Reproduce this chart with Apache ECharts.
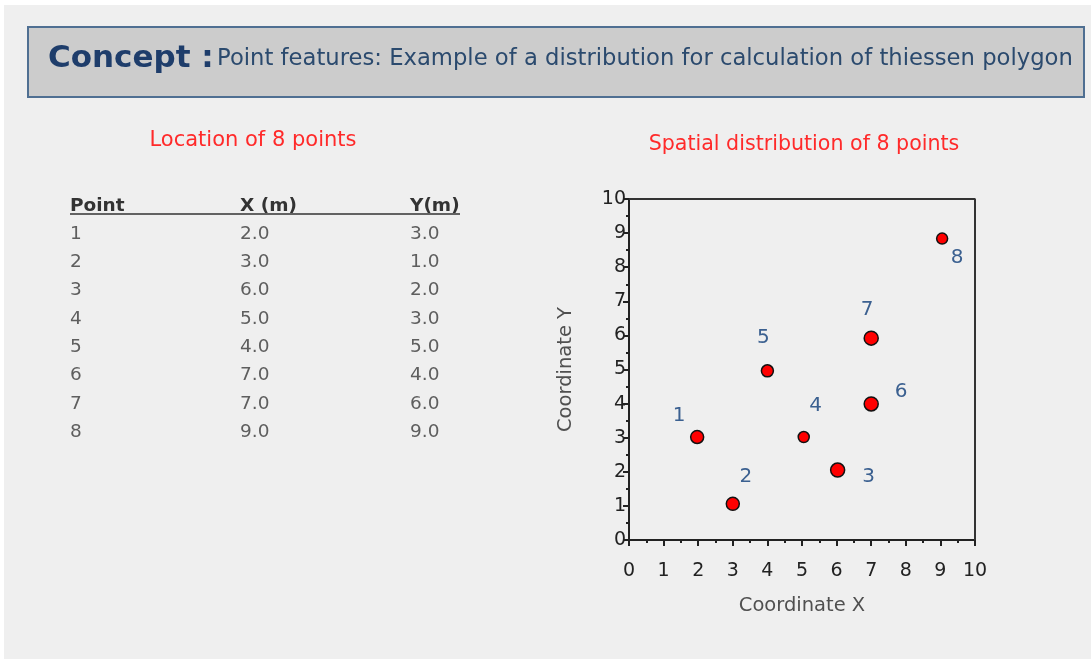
<!DOCTYPE html>
<html lang="en">
<head>
<meta charset="UTF-8">
<title>Thiessen polygon points</title>
<script src="https://cdn.jsdelivr.net/npm/echarts@6/dist/echarts.min.js"></script>
<style>
  html, body { margin: 0; padding: 0; background: #ffffff; }
  #box { width: 1091px; height: 661px; }
</style>
</head>
<body>
<div id="box"></div>
<script>
// table values (location of 8 points)
var pointIds = ['1', '2', '3', '4', '5', '6', '7', '8'];
var pointX = ['2.0', '3.0', '6.0', '5.0', '4.0', '7.0', '7.0', '9.0'];
var pointY = ['3.0', '1.0', '2.0', '3.0', '5.0', '4.0', '6.0', '9.0'];

// positions as plotted in the scatter
var plotX = [1.97, 3.0, 6.03, 5.05, 4.0, 7.0, 7.0, 9.05];
var plotY = [3.02, 1.06, 2.05, 3.02, 4.96, 3.99, 5.92, 8.84];
var markSize = [13, 13, 14, 11, 12, 14, 14, 11];

// label offsets next to each marker
var labelOffset = [[-18, -21], [13, -27], [31, 7], [12, -31], [-4, -33], [30, -12], [-4, -28], [15, 19]];

var axisTicks = ['0', '1', '2', '3', '4', '5', '6', '7', '8', '9', '10'];

var myChart = echarts.init(document.getElementById('box'));

var font = '"DejaVu Sans", Verdana, sans-serif';
var tableColor = '#5e5e5e';

// build table as graphic texts
var graphics = [];
// panel background
graphics.push({ type: 'rect', z: -10, shape: { x: 4, y: 5, width: 1087, height: 654 }, style: { fill: '#efefef' } });
// header box
graphics.push({ type: 'rect', shape: { x: 28, y: 27, width: 1056, height: 70 }, style: { fill: '#cccccc', stroke: '#4f6f92', lineWidth: 2 } });
graphics.push({
  type: 'text', x: 48, y: 59,
  style: {
    text: '{a|Concept :} {b|Point features: Example of a distribution for calculation of thiessen polygon}',
    verticalAlign: 'middle',
    rich: {
      a: { fontFamily: font, fontSize: 31, fontWeight: 'bold', fill: '#1e3d6b' },
      b: { fontFamily: font, fontSize: 22.7, fill: '#2b4a6e' }
    }
  }
});
// red subtitles
graphics.push({ type: 'text', x: 253, y: 141, style: { text: 'Location of 8 points', fontFamily: font, fontSize: 21, fill: '#ff2a2a', align: 'center', verticalAlign: 'middle' } });
graphics.push({ type: 'text', x: 804, y: 145, style: { text: 'Spatial distribution of 8 points', fontFamily: font, fontSize: 20.6, fill: '#ff2a2a', align: 'center', verticalAlign: 'middle' } });

// table header
var colX = [70, 240, 410];
var headers = ['Point', 'X (m)', 'Y(m)'];
for (var h = 0; h < 3; h++) {
  graphics.push({ type: 'text', x: colX[h], y: 206, style: { text: headers[h], fontFamily: font, fontSize: 18.5, fontWeight: 'bold', fill: '#333333', verticalAlign: 'middle' } });
}
graphics.push({ type: 'line', shape: { x1: 70, y1: 214, x2: 460, y2: 214 }, style: { stroke: '#333333', lineWidth: 1.5 } });
for (var i = 0; i < pointIds.length; i++) {
  var ry = 234 + i * 28.3;
  graphics.push({ type: 'text', x: 70, y: ry, style: { text: pointIds[i], fontFamily: font, fontSize: 18.5, fill: tableColor, verticalAlign: 'middle' } });
  graphics.push({ type: 'text', x: 240, y: ry, style: { text: pointX[i], fontFamily: font, fontSize: 18.5, fill: tableColor, verticalAlign: 'middle' } });
  graphics.push({ type: 'text', x: 410, y: ry, style: { text: pointY[i], fontFamily: font, fontSize: 18.5, fill: tableColor, verticalAlign: 'middle' } });
}

var scatterData = [];
for (var j = 0; j < plotX.length; j++) {
  scatterData.push({
    value: [plotX[j], plotY[j]],
    name: pointIds[j],
    symbolSize: markSize[j],
    label: { offset: labelOffset[j] }
  });
}

var option = {
  backgroundColor: '#ffffff',
  animation: false,
  graphic: graphics,
  grid: { left: 629, top: 199, right: 116, bottom: 121, show: false },
  xAxis: {
    type: 'value', min: 0, max: 10, interval: 1,
    name: 'Coordinate X', nameLocation: 'middle', nameGap: 56,
    nameTextStyle: { fontFamily: font, fontSize: 19.5, color: '#505050' },
    axisLine: { lineStyle: { color: '#222222', width: 2 } },
    axisTick: { show: true, length: 6, lineStyle: { color: '#222222', width: 2 } },
    minorTick: { show: true, splitNumber: 2, length: 3, lineStyle: { color: '#222222', width: 2 } },
    axisLabel: { margin: 22, fontFamily: font, fontSize: 19, color: '#222222', formatter: function (v) { return axisTicks[v]; } },
    splitLine: { show: false }
  },
  yAxis: {
    type: 'value', min: 0, max: 10, interval: 1,
    name: 'Coordinate Y', nameLocation: 'middle', nameGap: 53, nameRotate: 90,
    nameTextStyle: { fontFamily: font, fontSize: 19.5, color: '#505050' },
    axisLine: { lineStyle: { color: '#222222', width: 2 } },
    axisTick: { show: true, length: 6, lineStyle: { color: '#222222', width: 2 } },
    minorTick: { show: true, splitNumber: 2, length: 3, lineStyle: { color: '#222222', width: 2 } },
    axisLabel: { margin: 3, fontFamily: font, fontSize: 19, color: '#222222', formatter: function (v) { return axisTicks[v]; } },
    splitLine: { show: false }
  },
  series: [
    {
      // frame: top and right edges of the plot box
      type: 'line',
      data: [[0, 10], [10, 10], [10, 0]],
      symbol: 'none', silent: true,
      lineStyle: { color: '#333333', width: 2 }
    },
    {
      type: 'scatter',
      data: scatterData,
      itemStyle: { color: '#ff0000', opacity: 1, borderColor: '#111111', borderWidth: 1.5 },
      label: {
        show: true, position: 'inside',
        formatter: function (p) { return p.name; },
        fontFamily: font, fontSize: 20, color: '#3b6090'
      }
    }
  ]
};

myChart.setOption(option);
</script>
</body>
</html>
